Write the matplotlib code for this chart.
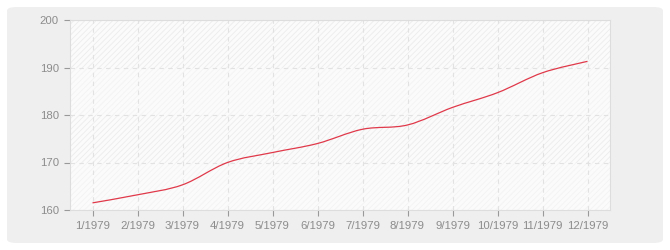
import matplotlib.pyplot as plt
from matplotlib.patches import FancyBboxPatch, PathPatch
from matplotlib.path import Path
import matplotlib as mpl

months = ['1/1979', '2/1979', '3/1979', '4/1979', '5/1979', '6/1979',
          '7/1979', '8/1979', '9/1979', '10/1979', '11/1979', '12/1979']
values = [161.5, 163.2, 165.3, 170.0, 172.1, 174.0,
          177.0, 177.9, 181.6, 184.7, 188.9, 191.3]
yticks = [160, 170, 180, 190, 200]

mpl.rcParams['hatch.linewidth'] = 0.6
plt.rcParams['font.family'] = ['Liberation Sans', 'DejaVu Sans']

fig = plt.figure(figsize=(6.7, 2.5), dpi=100)
fig.patch.set_facecolor('white')

# rounded grey panel behind the chart
panel = FancyBboxPatch((7 / 670, 7 / 250), 656 / 670, 236 / 250,
                       boxstyle='round,pad=0,rounding_size=0.015',
                       transform=fig.transFigure, facecolor='#efefef',
                       edgecolor='none', zorder=-10)
fig.patches.append(panel)

ax = fig.add_axes([70 / 670, 40 / 250, 540 / 670, 190 / 250])
ax.set_zorder(5)
ax.set_facecolor('#fbfbfb')

# alternating hatched bands
for i in range(len(yticks) - 1):
    lo, hi = yticks[i], yticks[i + 1]
    ec = '#ececec' if i % 2 == 1 else '#f3f3f3'
    ax.axhspan(lo, hi, facecolor='#fbfbfb', edgecolor=ec, hatch='//////',
               linewidth=0, zorder=0)

x = list(range(len(values)))

# smooth curve through the points (Catmull-Rom -> cubic Bezier)
verts = [(x[0], values[0])]
codes = [Path.MOVETO]
n = len(x)
for i in range(n - 1):
    p0 = (x[max(i - 1, 0)], values[max(i - 1, 0)])
    p1 = (x[i], values[i])
    p2 = (x[i + 1], values[i + 1])
    p3 = (x[min(i + 2, n - 1)], values[min(i + 2, n - 1)])
    c1 = (p1[0] + (p2[0] - p0[0]) / 6, p1[1] + (p2[1] - p0[1]) / 6)
    c2 = (p2[0] - (p3[0] - p1[0]) / 6, p2[1] - (p3[1] - p1[1]) / 6)
    verts += [c1, c2, p2]
    codes += [Path.CURVE4] * 3
ax.add_patch(PathPatch(Path(verts, codes), facecolor='none',
                       edgecolor='#e0394a', linewidth=0.9, zorder=3))

ax.set_xlim(-0.5, 11.5)
ax.set_ylim(160, 200)
ax.set_xticks(x)
ax.set_xticklabels(months)
ax.set_yticks(yticks)

ax.grid(True, color='#e2e2e2', linestyle=(0, (4, 4)), linewidth=0.8, zorder=1)
ax.set_axisbelow(True)

for s in ax.spines.values():
    s.set_color('#dddddd')
    s.set_linewidth(0.8)
ax.tick_params(axis='both', colors='#999999', labelcolor='#8c8c8c',
               labelsize=8.2, length=4, width=0.8, pad=4)

fig.savefig('out.png', dpi=100)
